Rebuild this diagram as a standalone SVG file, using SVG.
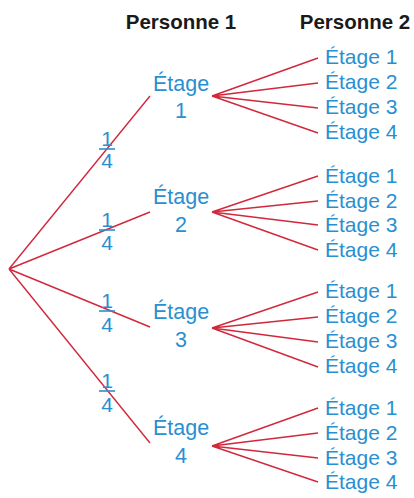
<svg xmlns="http://www.w3.org/2000/svg" width="414" height="498" viewBox="0 0 414 498">
<style>
.h{font-family:"Liberation Sans",Arial,sans-serif;font-weight:bold;font-size:20.5px;fill:#1a1a1a;text-anchor:middle}
.t{font-family:"Liberation Sans",Arial,sans-serif;font-size:21px;fill:#2a8fd0}
.n{font-family:"Liberation Sans",Arial,sans-serif;font-size:21.5px;fill:#2a8fd0;text-anchor:middle}
.f{font-family:"Liberation Sans",Arial,sans-serif;font-size:21px;fill:#2a8fd0;text-anchor:middle}
.bar{stroke:#2a8fd0;stroke-width:1.6}
.e{stroke:#d2283c;stroke-width:1.4;fill:none}
</style>
<rect width="414" height="498" fill="#ffffff"/>
<text class="h" x="181" y="29">Personne 1</text>
<text class="h" x="355" y="29">Personne 2</text>
<g id="connectors">
<path class="e" d="M9,269L150,96M9,269L150,212M9,269L150,327M9,269L150,443"/>
<path class="e" d="M212,96L318,58M212,96L318,83M212,96L318,108M212,96L318,133"/>
<path class="e" d="M212,212L318,176M212,212L318,201M212,212L318,225M212,212L318,250"/>
<path class="e" d="M212,328L318,292M212,328L318,317M212,328L318,342M212,328L318,367"/>
<path class="e" d="M212,446L318,408M212,446L318,433M212,446L318,458M212,446L318,482"/>
</g>
<g id="p1"><text class="f" x="107" y="146">1</text><line class="bar" x1="99" y1="149" x2="115" y2="149"/><text class="f" x="107" y="168">4</text></g>
<g id="p2"><text class="f" x="107" y="227">1</text><line class="bar" x1="99" y1="230" x2="115" y2="230"/><text class="f" x="107" y="250">4</text></g>
<g id="p3"><text class="f" x="107" y="308">1</text><line class="bar" x1="99" y1="311" x2="115" y2="311"/><text class="f" x="107" y="332">4</text></g>
<g id="p4"><text class="f" x="107" y="388">1</text><line class="bar" x1="99" y1="391" x2="115" y2="391"/><text class="f" x="107" y="412">4</text></g>
<g id="n1"><text class="n" x="181" y="91">Étage</text><text class="n" x="181" y="118">1</text></g>
<g id="n2"><text class="n" x="181" y="204">Étage</text><text class="n" x="181" y="232">2</text></g>
<g id="n3"><text class="n" x="181" y="319">Étage</text><text class="n" x="181" y="347">3</text></g>
<g id="n4"><text class="n" x="181" y="435">Étage</text><text class="n" x="181" y="463">4</text></g>
<g id="n1-1"><text class="t" x="325" y="64">Étage 1</text></g>
<g id="n1-2"><text class="t" x="325" y="89">Étage 2</text></g>
<g id="n1-3"><text class="t" x="325" y="114">Étage 3</text></g>
<g id="n1-4"><text class="t" x="325" y="139">Étage 4</text></g>
<g id="n2-1"><text class="t" x="325" y="183">Étage 1</text></g>
<g id="n2-2"><text class="t" x="325" y="208">Étage 2</text></g>
<g id="n2-3"><text class="t" x="325" y="232">Étage 3</text></g>
<g id="n2-4"><text class="t" x="325" y="257">Étage 4</text></g>
<g id="n3-1"><text class="t" x="325" y="298">Étage 1</text></g>
<g id="n3-2"><text class="t" x="325" y="323">Étage 2</text></g>
<g id="n3-3"><text class="t" x="325" y="348">Étage 3</text></g>
<g id="n3-4"><text class="t" x="325" y="373">Étage 4</text></g>
<g id="n4-1"><text class="t" x="325" y="415">Étage 1</text></g>
<g id="n4-2"><text class="t" x="325" y="440">Étage 2</text></g>
<g id="n4-3"><text class="t" x="325" y="465">Étage 3</text></g>
<g id="n4-4"><text class="t" x="325" y="489">Étage 4</text></g>
</svg>
